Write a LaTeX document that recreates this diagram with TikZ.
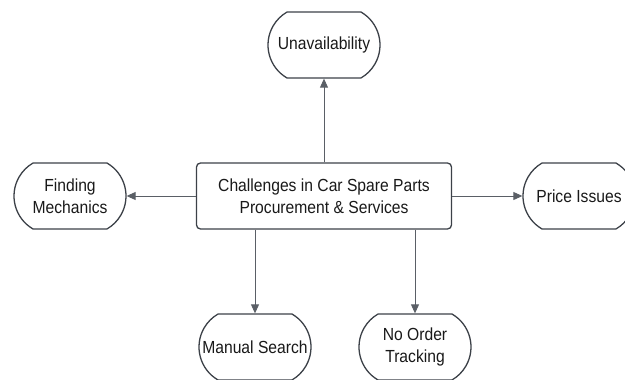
\documentclass[tikz,border=0pt]{standalone}
\usepackage{fontspec}
\setmainfont{Liberation Sans}[FakeStretch=0.895]
\usetikzlibrary{shapes.misc,arrows.meta}

\definecolor{edgegrey}{HTML}{3C4148}
\definecolor{linkgrey}{HTML}{5A5F66}

\begin{document}
\begin{tikzpicture}[x=1pt,y=-1pt]
  \def\W{625}          % picture width
  \def\H{380}          % picture height
  \def\cx{324}         % centre of the hub
  \def\cy{196}         % middle row
  \def\by{347}         % bottom row

  \tikzset{
    hub/.style={draw=edgegrey,line width=1.3pt,rounded corners=4pt,
      minimum width=255pt,minimum height=66pt,align=center,
      font=\fontsize{17.5}{22}\selectfont,text=black!90},
    issue/.style={draw=edgegrey,line width=1.3pt,rounded rectangle,
      rounded rectangle arc length=120,minimum width=116pt,
      minimum height=66pt,inner xsep=2pt,align=center,
      font=\fontsize{17.5}{22}\selectfont,text=black!90},
    link/.style={-{Triangle[length=9pt,width=8pt]},linkgrey,line width=0.9pt}
  }

  \useasboundingbox (0,0) rectangle (\W,\H);
  \clip (0,0) rectangle (\W,\H);

  % HUB
  \node[hub] (hub) at (\cx,\cy) {Challenges in Car Spare Parts\\Procurement \& Services};

  % ISSUES
  \node[issue] (unavail) at (\cx,45) {Unavailability};
  \node[issue] (mechanics) at (70,\cy) {Finding\\Mechanics};
  \node[issue] (price) at (579,\cy) {Price Issues};
  \node[issue] (manual) at (255,\by) {Manual Search};
  \node[issue] (tracking) at (415,\by) {No Order\\Tracking};

  % LINKS
  \draw[link] (hub.north) -- (unavail.south);
  \draw[link] (hub.west) -- (mechanics.east);
  \draw[link] (hub.east) -- (price.west);
  \draw[link] (hub.south -| manual) -- (manual.north);
  \draw[link] (hub.south -| tracking) -- (tracking.north);
\end{tikzpicture}
\end{document}
